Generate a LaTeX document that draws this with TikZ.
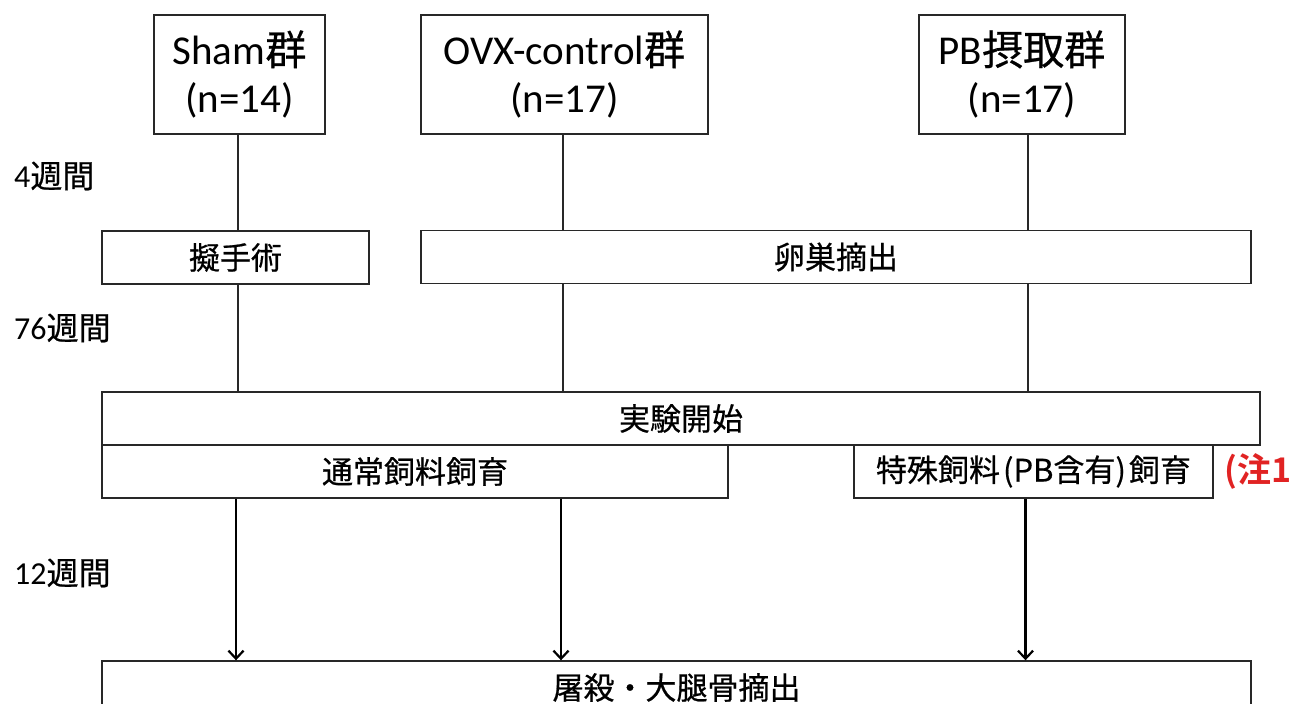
\documentclass[tikz,border=0pt]{standalone}
\usepackage{fontspec}
\setmainfont{Carlito}
\newfontfamily\cjk[FakeBold=0.6]{Noto Sans CJK JP}
\newfontfamily\cjkb{Noto Sans CJK JP Bold}
\usetikzlibrary{arrows.meta}
\definecolor{notered}{RGB}{225,35,35}
\definecolor{linegray}{RGB}{40,40,40}
\begin{document}
\begin{tikzpicture}[x=1pt,y=-1pt,
  groupbox/.style={draw=linegray,line width=1.4pt,fill=white,inner sep=0pt,
    minimum height=119pt,align=center,font=\fontsize{41}{48}\selectfont},
  stagebox/.style={draw=linegray,line width=1.4pt,fill=white,inner sep=0pt,
    minimum height=53pt,font=\cjk\fontsize{31}{36}\selectfont},
  weeklabel/.style={anchor=west,inner sep=0pt,font=\fontsize{32}{36}\selectfont},
  link/.style={draw=linegray,line width=2pt},
  flow/.style={draw=black,line width=2.2pt,-{Straight Barb[length=8pt,width=15pt,line width=2.2pt]}}
]
\useasboundingbox[fill=white] (0,0) rectangle (1294,704);

% group boxes
\node[groupbox,minimum width=171pt] (sham) at (239.5,74.5) {Sham{\cjk 群}\\(n=14)};
\node[groupbox,minimum width=287pt] (ovx) at (564.5,74.5) {OVX-control{\cjk 群}\\(n=17)};
\node[groupbox,minimum width=206pt] (pb) at (1022,74.5) {PB{\cjk 摂取群}\\(n=17)};

% surgery boxes
\node[stagebox,minimum width=267pt] (giji) at (235.5,257.5) {擬手術};
\node[stagebox,minimum width=830pt] (ransou) at (836,257) {卵巣摘出};

% start and feeding
\node[stagebox,minimum width=1158pt] (jikken) at (681,418.5) {実験開始};
\node[stagebox,minimum width=626pt] (tsujo) at (415,471.5) {通常飼料飼育};
\node[stagebox,minimum width=359pt] (tokushu) at (1033.5,471.5) {特殊飼料\kern3pt(PB含有)\kern3pt飼育};
\node[anchor=west,inner sep=0pt,text=notered,font=\cjkb\fontsize{34}{38}\selectfont] (note) at (1224,471.5) {(注1};

% final
\node[stagebox,minimum width=1149pt] (tosatsu) at (676.5,687.5) {屠殺・大腿骨摘出};

% week labels
\node[weeklabel] (w4) at (14,176) {4{\cjk 週間}};
\node[weeklabel] (w76) at (14,328) {76{\cjk 週間}};
\node[weeklabel] (w12) at (14,573) {12{\cjk 週間}};

% connectors
\draw[link] ([xshift=-1.5pt]sham.south) -- ([xshift=-1.5pt]sham.south |- giji.north);
\draw[link] ([xshift=-1.5pt]sham.south |- giji.south) -- ([xshift=-1.5pt]sham.south |- jikken.north);
\draw[link] ([xshift=-1.5pt]ovx.south) -- ([xshift=-1.5pt]ovx.south |- ransou.north);
\draw[link] ([xshift=-1.5pt]ovx.south |- ransou.south) -- ([xshift=-1.5pt]ovx.south |- jikken.north);
\draw[link] ([xshift=5.5pt]pb.south) -- ([xshift=5.5pt]pb.south |- ransou.north);
\draw[link] ([xshift=5.5pt]pb.south |- ransou.south) -- ([xshift=5.5pt]pb.south |- jikken.north);

\draw[flow] ([xshift=-179pt]tsujo.south) -- ([xshift=-179pt]tsujo.south |- tosatsu.north);
\draw[flow] ([xshift=146pt]tsujo.south) -- ([xshift=146pt]tsujo.south |- tosatsu.north);
\draw[flow] ([xshift=-8pt]tokushu.south) -- ([xshift=-8pt]tokushu.south |- tosatsu.north);
\end{tikzpicture}
\end{document}
